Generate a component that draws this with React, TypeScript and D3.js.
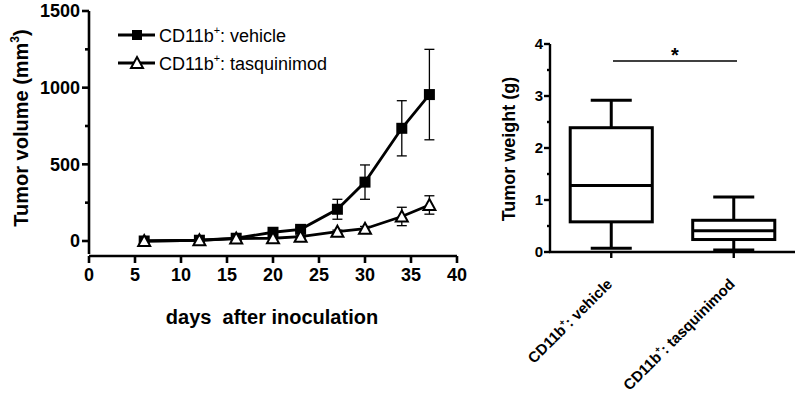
import React from 'react';
import { scaleLinear, scaleBand, line, range } from 'd3';

// growth curve data
const days = [6, 12, 16, 20, 23, 27, 30, 34, 37];
const vehicleMean = [0, 5, 18, 57, 76, 207, 384, 735, 955];
const vehicleSem = [2, 3, 5, 8, 12, 65, 112, 180, 295];
const tasqMean = [0, 5, 16, 18, 28, 61, 80, 160, 235];
const tasqSem = [1, 2, 3, 4, 6, 10, 15, 60, 60];
const volTicks = [0, 500, 1000, 1500];
const dayTicks = [0, 5, 10, 15, 20, 25, 30, 35, 40];

// box plot data
const groups = ['vehicle', 'tasquinimod'];
const boxMin = [0.07, 0.04];
const boxQ1 = [0.58, 0.24];
const boxMedian = [1.28, 0.41];
const boxQ3 = [2.39, 0.61];
const boxMax = [2.92, 1.06];
const weightTicks = [0, 1, 2, 3, 4];

const font = 'Liberation Sans, Arial, Helvetica, sans-serif';

const x = scaleLinear().domain([0, 40]).range([89, 457]);
const y = scaleLinear().domain([0, 1500]).range([241, 11]);
const xb = scaleBand().domain(groups).range([550, 795]).paddingInner(0.33).paddingOuter(0.165);
const yb = scaleLinear().domain([0, 4]).range([252, 44]);

// superscript followed by the rest of the text, back on the baseline
const supText = (base: string, sup: string, rest: string, size: number) => (
  <>
    {base}
    <tspan dy={-size * 0.45} fontSize={size * 0.6}>{sup}</tspan>
    <tspan dy={size * 0.45}>{rest}</tspan>
  </>
);

function Series({ mean, sem, tri }: { mean: number[]; sem: number[]; tri?: boolean }) {
  const pts = days.map((d, i) => [x(d), y(mean[i])] as [number, number]);
  const path = line()(pts) || '';
  return (
    <g>
      {days.map((d, i) => (
        <g key={d} stroke="#000" strokeWidth={1.3}>
          <line x1={x(d)} x2={x(d)} y1={y(mean[i] - sem[i])} y2={y(mean[i] + sem[i])} />
          <line x1={x(d) - 5} x2={x(d) + 5} y1={y(mean[i] + sem[i])} y2={y(mean[i] + sem[i])} />
          <line x1={x(d) - 5} x2={x(d) + 5} y1={y(mean[i] - sem[i])} y2={y(mean[i] - sem[i])} />
        </g>
      ))}
      <path d={path} fill="none" stroke="#000" strokeWidth={2.8} />
      {pts.map(([px, py], i) =>
        tri ? (
          <path key={i} d={`M${px},${py - 6}L${px + 6},${py + 5}L${px - 6},${py + 5}Z`} fill="#fff" stroke="#000" strokeWidth={2} />
        ) : (
          <rect key={i} x={px - 5.5} y={py - 5.5} width={11} height={11} fill="#000" />
        )
      )}
    </g>
  );
}

export default function App() {
  return (
    <svg width={800} height={403} style={{ position: 'absolute', left: 0, top: 0, background: '#fff' }} fontFamily={font}>
      {/* ---- left: tumor volume ---- */}
      <g stroke="#000" strokeWidth={2.6}>
        <line x1={89} x2={89} y1={y(1500)} y2={254} />
        <line x1={89} x2={457} y1={256} y2={256} />
        {volTicks.map(t => <line key={t} x1={82} x2={89} y1={y(t)} y2={y(t)} />)}
        {[250, 750, 1250].map(t => <line key={t} x1={85} x2={89} y1={y(t)} y2={y(t)} />)}
        {dayTicks.map(t => <line key={t} x1={x(t)} x2={x(t)} y1={256} y2={263} />)}
      </g>
      <g fontSize={18} fontWeight="bold" fill="#000">
        {volTicks.map(t => (
          <text key={t} x={80} y={y(t)} dy="0.36em" textAnchor="end">{t}</text>
        ))}
        {dayTicks.map(t => (
          <text key={t} x={x(t)} y={281} textAnchor="middle">{t}</text>
        ))}
        <text x={272} y={324} fontSize={20} textAnchor="middle" style={{ whiteSpace: 'pre' }}>{'days  after inoculation'}</text>
        <text transform="translate(28,128) rotate(-90)" fontSize={20} textAnchor="middle">
          {supText('Tumor volume (mm', '3', ')', 20)}
        </text>
      </g>
      <Series mean={vehicleMean} sem={vehicleSem} />
      <Series mean={tasqMean} sem={tasqSem} tri />

      {/* legend */}
      <g>
        <line x1={118} x2={155} y1={35} y2={35} stroke="#000" strokeWidth={2.8} />
        <rect x={132} y={30} width={10} height={10} fill="#000" />
        <line x1={118} x2={155} y1={63} y2={63} stroke="#000" strokeWidth={2.8} />
        <path d="M137,57L143,68L131,68Z" fill="#fff" stroke="#000" strokeWidth={2} />
        <text x={159} y={42} fontSize={18}>{supText('CD11b', '+', ': vehicle', 18)}</text>
        <text x={159} y={70} fontSize={18}>{supText('CD11b', '+', ': tasquinimod', 18)}</text>
      </g>

      {/* ---- right: tumor weight ---- */}
      <g stroke="#000" strokeWidth={2.4}>
        <line x1={550} x2={550} y1={yb(4)} y2={252} />
        <line x1={549} x2={795} y1={252} y2={252} />
        {weightTicks.map(t => <line key={t} x1={544} x2={550} y1={yb(t)} y2={yb(t)} />)}
        {range(0.5, 4, 1).map(t => <line key={t} x1={547} x2={550} y1={yb(t)} y2={yb(t)} />)}
        {groups.map(g => {
          const cx = (xb(g) || 0) + xb.bandwidth() / 2;
          return <line key={g} x1={cx} x2={cx} y1={252} y2={258} />;
        })}
      </g>
      <g fontSize={15} fontWeight="bold">
        {weightTicks.map(t => (
          <text key={t} x={543} y={yb(t)} dy="0.36em" textAnchor="end">{t}</text>
        ))}
        <text transform="translate(515,149) rotate(-90)" textAnchor="middle" fontSize={18}>Tumor weight (g)</text>
        {groups.map(g => {
          const cx = (xb(g) || 0) + xb.bandwidth() / 2;
          return (
            <text key={g} transform={`translate(${cx + 2},285) rotate(-45)`} textAnchor="end">
              {supText('CD11b', '+', ': ' + g, 15)}
            </text>
          );
        })}
      </g>
      {groups.map((g, i) => {
        const x0 = xb(g) || 0;
        const w = xb.bandwidth();
        const cx = x0 + w / 2;
        return (
          <g key={g} stroke="#000" strokeWidth={3} fill="none">
            <line x1={cx} x2={cx} y1={yb(boxQ3[i])} y2={yb(boxMax[i])} />
            <line x1={cx} x2={cx} y1={yb(boxQ1[i])} y2={yb(boxMin[i])} />
            <line x1={cx - w / 4} x2={cx + w / 4} y1={yb(boxMax[i])} y2={yb(boxMax[i])} />
            <line x1={cx - w / 4} x2={cx + w / 4} y1={yb(boxMin[i])} y2={yb(boxMin[i])} />
            <rect x={x0} y={yb(boxQ3[i])} width={w} height={yb(boxQ1[i]) - yb(boxQ3[i])} />
            <line x1={x0} x2={x0 + w} y1={yb(boxMedian[i])} y2={yb(boxMedian[i])} />
          </g>
        );
      })}
      {/* significance */}
      <line x1={613} x2={737} y1={61} y2={61} stroke="#000" strokeWidth={1.3} />
      <text x={675} y={62} fontSize={20} fontWeight="bold" textAnchor="middle">*</text>
    </svg>
  );
}
